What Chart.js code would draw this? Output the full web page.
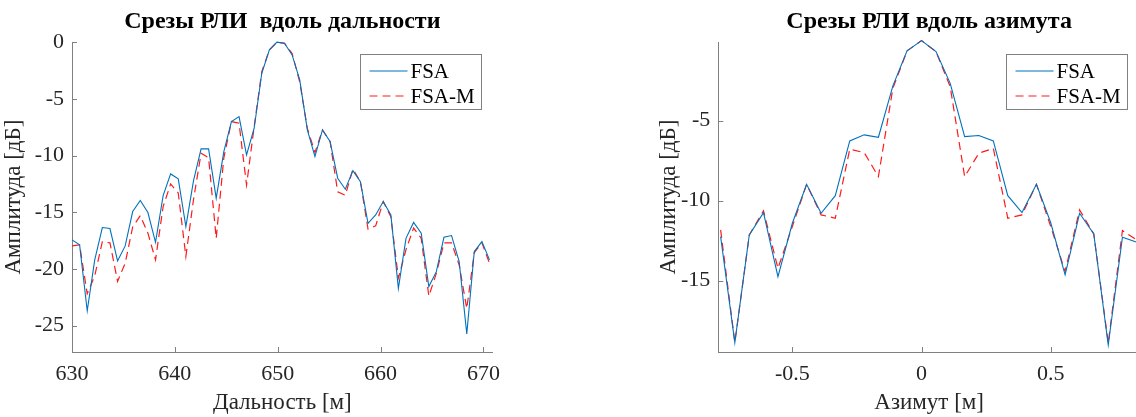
<!DOCTYPE html>
<html>
<head>
<meta charset="utf-8">
<script src="https://cdn.jsdelivr.net/npm/chart.js@4.4.1/dist/chart.umd.min.js"></script>
<style>
html,body{margin:0;padding:0;background:#fff;overflow:hidden;width:1136px;height:417px;position:relative;}
#c1{position:absolute;left:0;top:0;}
#c2{position:absolute;left:568px;top:0;}
</style>
</head>
<body>
<canvas id="c1" width="568" height="417"></canvas>
<canvas id="c2" width="572" height="417"></canvas>
<script>
// ---- Range cut data ----
const rangeX = [630.00,630.74,631.48,632.21,632.95,633.69,634.43,635.17,635.90,636.64,637.38,638.12,638.86,639.59,640.33,641.07,641.81,642.55,643.28,644.02,644.76,645.50,646.24,646.97,647.71,648.45,649.19,649.93,650.66,651.40,652.14,652.88,653.62,654.35,655.09,655.83,656.57,657.31,658.04,658.78,659.52,660.26,661.00,661.73,662.47,663.21,663.95,664.69,665.42,666.16,666.90,667.64,668.38,669.11,669.85,670.59];
const rangeFSA = [-17.44,-17.88,-23.7,-19.2,-16.35,-16.44,-19.3,-17.97,-14.94,-13.97,-15.03,-17.65,-13.53,-11.62,-12.06,-16.26,-12.24,-9.41,-9.41,-13.76,-9.65,-7.0,-6.56,-9.94,-7.59,-2.74,-0.68,0,-0.09,-1.12,-3.33,-7.74,-10.09,-7.74,-8.76,-12.0,-12.97,-11.33,-12.3,-15.98,-15.24,-14.06,-15.24,-21.71,-17.3,-15.9,-16.85,-21.56,-20.24,-17.21,-17.06,-19.35,-25.73,-18.47,-17.59,-19.2];
const rangeFSAM = [-17.97,-17.88,-22.2,-20.6,-17.6,-17.7,-21.1,-19.5,-16.3,-15.3,-16.85,-19.2,-14.5,-12.5,-13.3,-18.9,-13.9,-9.8,-10.2,-17.3,-10.2,-7.0,-7.15,-12.6,-7.45,-2.6,-0.68,0,-0.1,-1.0,-3.5,-7.6,-9.74,-7.74,-8.76,-13.2,-13.5,-11.2,-12.3,-16.5,-16.2,-14.06,-15.4,-20.8,-18.3,-16.4,-17.3,-22.4,-20.4,-17.7,-17.7,-19.65,-23.5,-18.56,-17.7,-19.5];
const rangeXTicks = [630,640,650,660,670];
const rangeYTicks = [0,-5,-10,-15,-20,-25];

// ---- Azimuth cut data ----
const azX = [-0.778,-0.723,-0.667,-0.612,-0.556,-0.500,-0.445,-0.389,-0.334,-0.278,-0.222,-0.167,-0.111,-0.056,0,0.056,0.111,0.167,0.222,0.278,0.334,0.389,0.445,0.500,0.556,0.612,0.667,0.723,0.778,0.834];
const azFSA = [-12.25,-18.87,-12.14,-10.75,-14.75,-11.4,-8.98,-10.79,-9.69,-6.27,-5.89,-6.04,-2.83,-0.64,0,-0.69,-2.67,-6.0,-5.93,-6.27,-9.69,-10.75,-8.98,-11.37,-14.64,-10.79,-12.08,-19.02,-12.29,-12.6];
const azFSAM = [-11.83,-18.87,-12.14,-10.64,-14.23,-11.6,-8.98,-10.89,-11.1,-6.79,-7.0,-8.5,-2.98,-0.64,0,-0.69,-2.88,-8.5,-7.04,-6.73,-11.1,-10.89,-8.98,-11.6,-14.43,-10.58,-12.08,-18.9,-11.87,-12.46];
const azXTicks = [-0.5,0,0.5];
const azYTicks = [-5,-10,-15];

const seriesNames = ['FSA','FSA-M'];

const FONT = "'Liberation Serif','Times New Roman',serif";
const BLUE = '#0072BD';
const RED = '#ff1a1a';
const AXIS = '#808080';
const TEXT = '#262626';

const inwardTicks = {
  id: 'inwardTicks',
  afterDraw(chart) {
    const ctx = chart.ctx, ca = chart.chartArea;
    const xs = chart.scales.x, ys = chart.scales.y;
    ctx.save();
    ctx.strokeStyle = AXIS;
    ctx.lineWidth = 1;
    ctx.beginPath();
    xs.ticks.forEach(t => {
      const p = Math.round(xs.getPixelForValue(t.value)) + 0.5;
      ctx.moveTo(p, ca.bottom);
      ctx.lineTo(p, ca.bottom - 5);
    });
    ys.ticks.forEach(t => {
      const p = Math.round(ys.getPixelForValue(t.value)) + 0.5;
      ctx.moveTo(ca.left, p);
      ctx.lineTo(ca.left + 5, p);
    });
    ctx.stroke();
    ctx.restore();
  }
};

const boxLegend = {
  id: 'boxLegend',
  afterDraw(chart) {
    const ctx = chart.ctx, ca = chart.chartArea;
    const bx = Math.round(ca.left + 287.5) + 0.5, by = 54.5, bw = 121, bh = 55;
    ctx.save();
    ctx.fillStyle = '#fff';
    ctx.fillRect(bx, by, bw, bh);
    ctx.strokeStyle = AXIS;
    ctx.lineWidth = 1;
    ctx.strokeRect(bx, by, bw, bh);
    chart.data.datasets.forEach((ds, i) => {
      const y = by + 16.5 + i * 25;
      ctx.beginPath();
      ctx.strokeStyle = ds.borderColor;
      ctx.lineWidth = ds.borderWidth;
      ctx.setLineDash(ds.borderDash || []);
      ctx.moveTo(bx + 9, y);
      ctx.lineTo(bx + 47, y);
      ctx.stroke();
      ctx.setLineDash([]);
      ctx.fillStyle = '#000';
      ctx.font = '21px ' + FONT;
      ctx.textBaseline = 'middle';
      ctx.textAlign = 'left';
      ctx.fillText(ds.label, bx + 50, y + 1);
    });
    ctx.restore();
  }
};

function makeChart(canvas, c) {
  return new Chart(canvas, {
    type: 'line',
    data: {
      datasets: [
        { label: seriesNames[0], data: c.x.map((v, i) => ({x: v, y: c.a[i]})), borderColor: BLUE, borderWidth: 1.1, pointRadius: 0, fill: false, tension: 0, clip: 4 },
        { label: seriesNames[1], data: c.x.map((v, i) => ({x: v, y: c.b[i]})), borderColor: RED, borderWidth: 1.2, borderDash: [8, 5], pointRadius: 0, fill: false, tension: 0, clip: 4 }
      ]
    },
    options: {
      responsive: false,
      animation: false,
      events: [],
      layout: { padding: { left: c.padLeft, right: c.padRight, top: 0, bottom: 0 } },
      plugins: {
        legend: { display: false },
        tooltip: { enabled: false },
        title: {
          display: true, text: c.title, fullSize: false, color: '#000',
          font: { family: FONT, size: 24, weight: 'bold' },
          padding: { top: 7.6, bottom: 5.8 }
        }
      },
      scales: {
        x: {
          type: 'linear', min: c.xmin, max: c.xmax,
          grid: { display: true, drawOnChartArea: false, drawTicks: false },
          border: { display: true, color: AXIS, width: 1 },
          ticks: { padding: 8.6, color: TEXT, font: { family: FONT, size: 22 }, maxRotation: 0, autoSkip: false, callback: v => String(v) },
          title: { display: true, text: c.xTitle, color: TEXT, font: { family: FONT, size: 23 }, padding: { top: 0, bottom: 0 } },
          afterBuildTicks: s => { s.ticks = c.xt.map(v => ({ value: v })); },
          afterFit: s => { s.height = 65; }
        },
        y: {
          type: 'linear', min: c.ymin, max: c.ymax,
          grid: { display: true, drawOnChartArea: false, drawTicks: false },
          border: { display: true, color: AXIS, width: 1 },
          ticks: { padding: 8, color: TEXT, font: { family: FONT, size: 22 }, autoSkip: false, callback: v => String(v) },
          title: { display: true, text: 'Амплитуда [дБ]', color: TEXT, font: { family: FONT, size: 23 }, padding: { top: c.yTitlePad, bottom: 0 } },
          afterBuildTicks: s => { s.ticks = c.yt.map(v => ({ value: v })); },
          afterFit: s => { s.width = c.yWidth; }
        }
      }
    },
    plugins: [inwardTicks, boxLegend]
  });
}

makeChart(document.getElementById('c1'), {
  x: rangeX, a: rangeFSA, b: rangeFSAM, xt: rangeXTicks, yt: rangeYTicks,
  xmin: 630, xmax: 670.9, ymin: -27.33, ymax: 0,
  title: 'Срезы РЛИ  вдоль дальности', xTitle: 'Дальность [м]',
  padLeft: 0, padRight: 75.3, yWidth: 72, yTitlePad: 0.2
});

makeChart(document.getElementById('c2'), {
  x: azX, a: azFSA, b: azFSAM, xt: azXTicks, yt: azYTicks,
  xmin: -0.787, xmax: 0.846, ymin: -19.46, ymax: -0.1,
  title: 'Срезы РЛИ вдоль азимута', xTitle: 'Азимут [м]',
  padLeft: 86, padRight: 0, yWidth: 64.3, yTitlePad: 1.2
});
</script>
</body>
</html>
